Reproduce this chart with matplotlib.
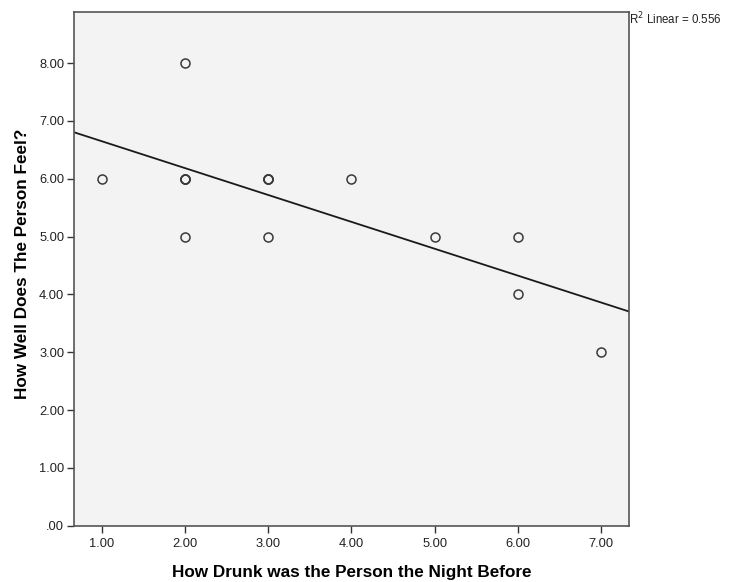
import numpy as np
import matplotlib
matplotlib.use("Agg")
import matplotlib.pyplot as plt

plt.rcParams['font.family'] = ['Liberation Sans', 'DejaVu Sans']

# data (duplicates are drawn on top of each other)
drunk = [1, 2, 2, 2, 2, 2, 3, 3, 3, 3, 4, 5, 6, 6, 7]
feel = [6, 8, 6, 6, 6, 5, 6, 6, 6, 5, 6, 5, 5, 4, 3]
x_ticks = [1, 2, 3, 4, 5, 6, 7]
y_ticks = [0, 1, 2, 3, 4, 5, 6, 7, 8]

x = np.array(drunk, dtype=float)
y = np.array(feel, dtype=float)
slope, intercept = np.polyfit(x, y, 1)
r2 = np.corrcoef(x, y)[0, 1] ** 2

fig = plt.figure(figsize=(7.33, 5.82), dpi=100)
ax = fig.add_axes([0.101, 0.0967, 0.757, 0.8833])
ax.set_facecolor('#f3f3f3')

xlim = (0.667, 7.333)
ax.set_xlim(xlim)
ax.set_ylim(0, 8.89)

xs = np.array(xlim)
ax.plot(xs, intercept + slope * xs, color='#1a1a1a', lw=1.3, zorder=2)
ax.plot(x, y, 'o', ms=6.5, mfc='none', mec='#3a3a3a', mew=1.1, zorder=3)

ax.set_xticks(x_ticks)
ax.set_xticklabels(['%.2f' % v for v in x_ticks])
ax.set_yticks(y_ticks)
ax.set_yticklabels(['.00' if v == 0 else '%.2f' % v for v in y_ticks])
ax.tick_params(direction='out', length=5, width=1, color='#333333',
               labelsize=9.3, labelcolor='#222222', pad=2)
ax.tick_params(axis='x', pad=4)

for s in ax.spines.values():
    s.set_color('#555555')
    s.set_linewidth(1.2)

ax.set_xlabel('How Drunk was the Person the Night Before', fontsize=12.3,
              fontweight='bold', labelpad=11)
ax.set_ylabel('How Well Does The Person Feel?', fontsize=12.3,
              fontweight='bold')
ax.yaxis.set_label_coords(-0.079, 0.509)

fig.text(0.858, 0.968, 'R$^2$ Linear = %.3f' % r2, fontsize=8.3,
         ha='left', va='center', color='#222222')

fig.savefig('out.png', dpi=100)
